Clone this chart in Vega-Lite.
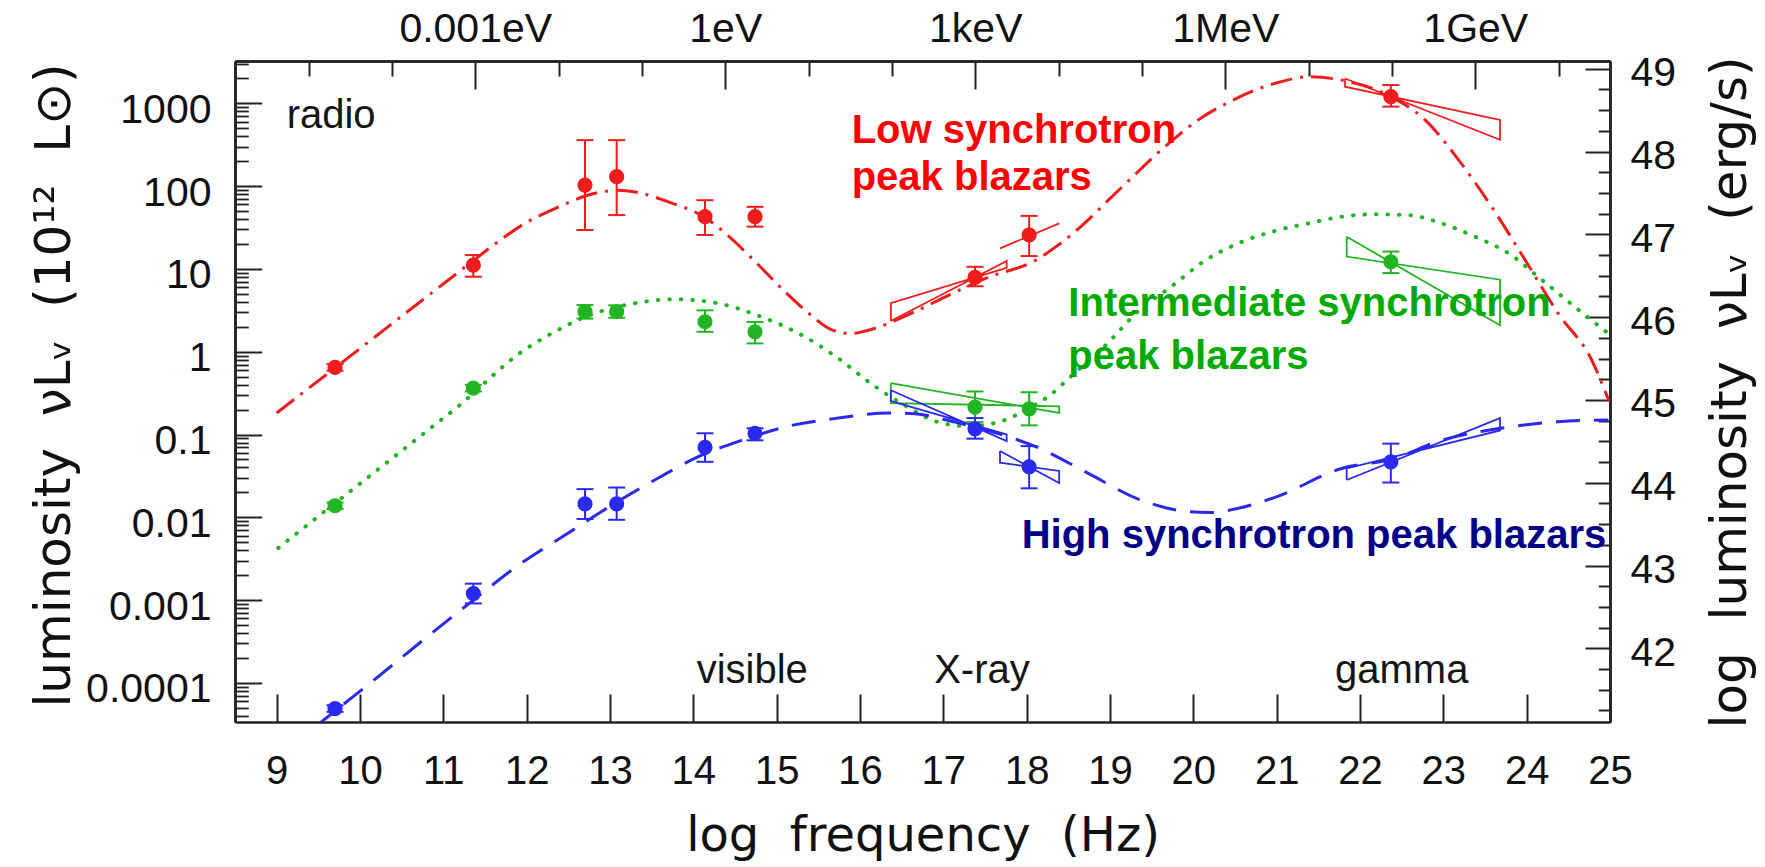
{
  "$schema": "https://vega.github.io/schema/vega-lite/v6.json",
  "width": 1375,
  "height": 661,
  "autosize": {"type": "none"},
  "padding": {"left": 235, "top": 61, "right": 155, "bottom": 145},
  "background": "#ffffff",
  "config": {
    "view": {"stroke": null},
    "axis": {
      "grid": false,
      "domainColor": "#222222",
      "domainWidth": 2.5,
      "tickColor": "#222222",
      "tickWidth": 2,
      "labelColor": "#111111",
      "labelFont": "Liberation Sans",
      "labelFontSize": 40,
      "titleColor": "#111111",
      "titleFont": "DejaVu Sans",
      "titleFontSize": 48,
      "titleFontWeight": "normal",
      "labelOverlap": false,
      "labelFlush": false,
      "labelBound": false
    }
  },
  "datasets": {
    "curves": [
      {"class": "LSP", "f": 9.0, "nuL": 0.182},
      {"class": "LSP", "f": 9.7, "nuL": 0.638},
      {"class": "LSP", "f": 10.3, "nuL": 1.875},
      {"class": "LSP", "f": 10.7, "nuL": 3.85},
      {"class": "LSP", "f": 11.06, "nuL": 7.35},
      {"class": "LSP", "f": 11.36, "nuL": 12.6},
      {"class": "LSP", "f": 11.66, "nuL": 21.4},
      {"class": "LSP", "f": 11.98, "nuL": 35.5},
      {"class": "LSP", "f": 12.3, "nuL": 51.3},
      {"class": "LSP", "f": 12.5, "nuL": 63.1},
      {"class": "LSP", "f": 12.7, "nuL": 75.9},
      {"class": "LSP", "f": 12.9, "nuL": 85.1},
      {"class": "LSP", "f": 13.1, "nuL": 89.1},
      {"class": "LSP", "f": 13.3, "nuL": 85.1},
      {"class": "LSP", "f": 13.7, "nuL": 64.6},
      {"class": "LSP", "f": 14.14, "nuL": 41.7},
      {"class": "LSP", "f": 14.42, "nuL": 25.1},
      {"class": "LSP", "f": 14.7, "nuL": 13.5},
      {"class": "LSP", "f": 15.12, "nuL": 5.07},
      {"class": "LSP", "f": 15.39, "nuL": 2.88},
      {"class": "LSP", "f": 15.67, "nuL": 1.82},
      {"class": "LSP", "f": 15.9, "nuL": 1.66},
      {"class": "LSP", "f": 16.1, "nuL": 1.82},
      {"class": "LSP", "f": 16.66, "nuL": 3.05},
      {"class": "LSP", "f": 16.98, "nuL": 4.37},
      {"class": "LSP", "f": 17.54, "nuL": 7.94},
      {"class": "LSP", "f": 18.1, "nuL": 12.6},
      {"class": "LSP", "f": 18.34, "nuL": 18.2},
      {"class": "LSP", "f": 18.66, "nuL": 33.1},
      {"class": "LSP", "f": 18.98, "nuL": 67.6},
      {"class": "LSP", "f": 19.26, "nuL": 126},
      {"class": "LSP", "f": 19.54, "nuL": 234},
      {"class": "LSP", "f": 19.78, "nuL": 380},
      {"class": "LSP", "f": 20.06, "nuL": 631},
      {"class": "LSP", "f": 20.42, "nuL": 1023},
      {"class": "LSP", "f": 20.74, "nuL": 1445},
      {"class": "LSP", "f": 20.98, "nuL": 1738},
      {"class": "LSP", "f": 21.38, "nuL": 2089},
      {"class": "LSP", "f": 21.78, "nuL": 1905},
      {"class": "LSP", "f": 22.37, "nuL": 1202},
      {"class": "LSP", "f": 22.78, "nuL": 631},
      {"class": "LSP", "f": 23.18, "nuL": 209},
      {"class": "LSP", "f": 23.58, "nuL": 56.2},
      {"class": "LSP", "f": 23.98, "nuL": 12.9},
      {"class": "LSP", "f": 24.38, "nuL": 2.88},
      {"class": "LSP", "f": 24.78, "nuL": 0.794},
      {"class": "LSP", "f": 24.99, "nuL": 0.25},
      {"class": "ISP", "f": 9.02, "nuL": 0.00427},
      {"class": "ISP", "f": 9.7, "nuL": 0.0148},
      {"class": "ISP", "f": 10.3, "nuL": 0.0441},
      {"class": "ISP", "f": 10.82, "nuL": 0.114},
      {"class": "ISP", "f": 11.22, "nuL": 0.237},
      {"class": "ISP", "f": 11.36, "nuL": 0.316},
      {"class": "ISP", "f": 11.9, "nuL": 0.933},
      {"class": "ISP", "f": 12.3, "nuL": 1.66},
      {"class": "ISP", "f": 12.7, "nuL": 2.63},
      {"class": "ISP", "f": 13.3, "nuL": 3.85},
      {"class": "ISP", "f": 13.78, "nuL": 4.3},
      {"class": "ISP", "f": 14.29, "nuL": 3.85},
      {"class": "ISP", "f": 14.74, "nuL": 2.82},
      {"class": "ISP", "f": 15.34, "nuL": 1.51},
      {"class": "ISP", "f": 15.74, "nuL": 0.832},
      {"class": "ISP", "f": 16.14, "nuL": 0.407},
      {"class": "ISP", "f": 16.54, "nuL": 0.224},
      {"class": "ISP", "f": 16.94, "nuL": 0.141},
      {"class": "ISP", "f": 17.3, "nuL": 0.126},
      {"class": "ISP", "f": 17.7, "nuL": 0.145},
      {"class": "ISP", "f": 18.03, "nuL": 0.209},
      {"class": "ISP", "f": 18.26, "nuL": 0.288},
      {"class": "ISP", "f": 18.54, "nuL": 0.513},
      {"class": "ISP", "f": 18.94, "nuL": 1.175},
      {"class": "ISP", "f": 19.34, "nuL": 3.09},
      {"class": "ISP", "f": 19.74, "nuL": 6.17},
      {"class": "ISP", "f": 20.14, "nuL": 12.6},
      {"class": "ISP", "f": 20.54, "nuL": 20.4},
      {"class": "ISP", "f": 20.98, "nuL": 28.8},
      {"class": "ISP", "f": 21.38, "nuL": 35.5},
      {"class": "ISP", "f": 21.78, "nuL": 42.7},
      {"class": "ISP", "f": 22.18, "nuL": 45.7},
      {"class": "ISP", "f": 22.58, "nuL": 44.7},
      {"class": "ISP", "f": 22.98, "nuL": 35.5},
      {"class": "ISP", "f": 23.38, "nuL": 24.5},
      {"class": "ISP", "f": 23.78, "nuL": 15.5},
      {"class": "ISP", "f": 24.18, "nuL": 7.41},
      {"class": "ISP", "f": 24.58, "nuL": 3.47},
      {"class": "ISP", "f": 24.98, "nuL": 1.66},
      {"class": "HSP", "f": 9.45, "nuL": 0.0000288},
      {"class": "HSP", "f": 9.7, "nuL": 0.0000457},
      {"class": "HSP", "f": 10.1, "nuL": 0.0000955},
      {"class": "HSP", "f": 10.7, "nuL": 0.000295},
      {"class": "HSP", "f": 11.36, "nuL": 0.001},
      {"class": "HSP", "f": 11.9, "nuL": 0.00263},
      {"class": "HSP", "f": 12.5, "nuL": 0.00646},
      {"class": "HSP", "f": 12.9, "nuL": 0.01175},
      {"class": "HSP", "f": 13.5, "nuL": 0.0269},
      {"class": "HSP", "f": 14.1, "nuL": 0.0562},
      {"class": "HSP", "f": 14.58, "nuL": 0.0851},
      {"class": "HSP", "f": 15.14, "nuL": 0.126},
      {"class": "HSP", "f": 15.74, "nuL": 0.158},
      {"class": "HSP", "f": 16.34, "nuL": 0.182},
      {"class": "HSP", "f": 16.66, "nuL": 0.178},
      {"class": "HSP", "f": 17.14, "nuL": 0.141},
      {"class": "HSP", "f": 17.54, "nuL": 0.111},
      {"class": "HSP", "f": 18.14, "nuL": 0.0692},
      {"class": "HSP", "f": 18.74, "nuL": 0.0339},
      {"class": "HSP", "f": 19.34, "nuL": 0.0166},
      {"class": "HSP", "f": 19.94, "nuL": 0.0117},
      {"class": "HSP", "f": 20.2, "nuL": 0.0114},
      {"class": "HSP", "f": 20.5, "nuL": 0.0126},
      {"class": "HSP", "f": 20.98, "nuL": 0.0174},
      {"class": "HSP", "f": 21.78, "nuL": 0.0389},
      {"class": "HSP", "f": 22.37, "nuL": 0.0501},
      {"class": "HSP", "f": 22.98, "nuL": 0.0851},
      {"class": "HSP", "f": 23.78, "nuL": 0.123},
      {"class": "HSP", "f": 24.38, "nuL": 0.143},
      {"class": "HSP", "f": 24.98, "nuL": 0.15}
    ],
    "points": [
      {"class": "LSP", "f": 9.7, "nuL": 0.646, "lo": 0.589, "hi": 0.708},
      {"class": "LSP", "f": 11.36, "nuL": 11.1, "lo": 8.05, "hi": 14.7},
      {"class": "LSP", "f": 12.7, "nuL": 103, "lo": 29.5, "hi": 359},
      {"class": "LSP", "f": 13.08, "nuL": 130, "lo": 44.7, "hi": 359},
      {"class": "LSP", "f": 14.14, "nuL": 42.7, "lo": 25.7, "hi": 67.6},
      {"class": "LSP", "f": 14.74, "nuL": 42.7, "lo": 32.4, "hi": 56.2},
      {"class": "LSP", "f": 17.38, "nuL": 7.89, "lo": 6.17, "hi": 10.6},
      {"class": "LSP", "f": 18.03, "nuL": 25.7, "lo": 14.3, "hi": 43.7},
      {"class": "LSP", "f": 22.37, "nuL": 1202, "lo": 912, "hi": 1660},
      {"class": "ISP", "f": 9.7, "nuL": 0.0138, "lo": 0.0126, "hi": 0.0151},
      {"class": "ISP", "f": 11.36, "nuL": 0.363, "lo": 0.331, "hi": 0.398},
      {"class": "ISP", "f": 12.7, "nuL": 3.04, "lo": 2.51, "hi": 3.66},
      {"class": "ISP", "f": 13.08, "nuL": 3.04, "lo": 2.57, "hi": 3.63},
      {"class": "ISP", "f": 14.14, "nuL": 2.3, "lo": 1.74, "hi": 3.16},
      {"class": "ISP", "f": 14.74, "nuL": 1.74, "lo": 1.26, "hi": 2.29},
      {"class": "ISP", "f": 17.38, "nuL": 0.214, "lo": 0.141, "hi": 0.331},
      {"class": "ISP", "f": 18.03, "nuL": 0.204, "lo": 0.129, "hi": 0.324},
      {"class": "ISP", "f": 22.37, "nuL": 12.2, "lo": 8.91, "hi": 16.2},
      {"class": "HSP", "f": 9.7, "nuL": 0.000049, "lo": 0.0000447, "hi": 0.0000537},
      {"class": "HSP", "f": 11.36, "nuL": 0.0012, "lo": 0.000912, "hi": 0.00158},
      {"class": "HSP", "f": 12.7, "nuL": 0.0145, "lo": 0.00955, "hi": 0.0219},
      {"class": "HSP", "f": 13.08, "nuL": 0.0145, "lo": 0.00933, "hi": 0.0229},
      {"class": "HSP", "f": 14.14, "nuL": 0.07, "lo": 0.0468, "hi": 0.1035},
      {"class": "HSP", "f": 14.74, "nuL": 0.1035, "lo": 0.0851, "hi": 0.119},
      {"class": "HSP", "f": 17.38, "nuL": 0.117, "lo": 0.0891, "hi": 0.158},
      {"class": "HSP", "f": 18.03, "nuL": 0.0407, "lo": 0.0224, "hi": 0.0724},
      {"class": "HSP", "f": 22.37, "nuL": 0.0468, "lo": 0.0263, "hi": 0.0776}
    ],
    "bowties": [
      {"class": "LSP", "shape": "LSP X-ray", "order": 0, "f": 16.37, "nuL": 2.35},
      {"class": "LSP", "shape": "LSP X-ray", "order": 1, "f": 17.76, "nuL": 12.45},
      {"class": "LSP", "shape": "LSP X-ray", "order": 2, "f": 17.76, "nuL": 10.3},
      {"class": "LSP", "shape": "LSP X-ray", "order": 3, "f": 16.37, "nuL": 3.87},
      {"class": "LSP", "shape": "LSP X-ray", "order": 4, "f": 16.37, "nuL": 2.35},
      {"class": "LSP", "shape": "LSP X-ray slope", "order": 0, "f": 17.68, "nuL": 17.7},
      {"class": "LSP", "shape": "LSP X-ray slope", "order": 1, "f": 18.39, "nuL": 35.5},
      {"class": "LSP", "shape": "LSP gamma", "order": 0, "f": 21.82, "nuL": 1995},
      {"class": "LSP", "shape": "LSP gamma", "order": 1, "f": 23.68, "nuL": 363},
      {"class": "LSP", "shape": "LSP gamma", "order": 2, "f": 23.68, "nuL": 631},
      {"class": "LSP", "shape": "LSP gamma", "order": 3, "f": 21.82, "nuL": 1585},
      {"class": "LSP", "shape": "LSP gamma", "order": 4, "f": 21.82, "nuL": 1995},
      {"class": "ISP", "shape": "ISP X-ray", "order": 0, "f": 16.37, "nuL": 0.417},
      {"class": "ISP", "shape": "ISP X-ray", "order": 1, "f": 18.39, "nuL": 0.182},
      {"class": "ISP", "shape": "ISP X-ray", "order": 2, "f": 18.39, "nuL": 0.219},
      {"class": "ISP", "shape": "ISP X-ray", "order": 3, "f": 16.37, "nuL": 0.24},
      {"class": "ISP", "shape": "ISP X-ray", "order": 4, "f": 16.37, "nuL": 0.417},
      {"class": "ISP", "shape": "ISP gamma", "order": 0, "f": 21.84, "nuL": 24.5},
      {"class": "ISP", "shape": "ISP gamma", "order": 1, "f": 23.68, "nuL": 2.09},
      {"class": "ISP", "shape": "ISP gamma", "order": 2, "f": 23.68, "nuL": 7.41},
      {"class": "ISP", "shape": "ISP gamma", "order": 3, "f": 21.84, "nuL": 14.1},
      {"class": "ISP", "shape": "ISP gamma", "order": 4, "f": 21.84, "nuL": 24.5},
      {"class": "HSP", "shape": "HSP X-ray soft", "order": 0, "f": 16.37, "nuL": 0.342},
      {"class": "HSP", "shape": "HSP X-ray soft", "order": 1, "f": 17.76, "nuL": 0.0832},
      {"class": "HSP", "shape": "HSP X-ray soft", "order": 2, "f": 17.76, "nuL": 0.1},
      {"class": "HSP", "shape": "HSP X-ray soft", "order": 3, "f": 16.37, "nuL": 0.254},
      {"class": "HSP", "shape": "HSP X-ray soft", "order": 4, "f": 16.37, "nuL": 0.342},
      {"class": "HSP", "shape": "HSP X-ray hard", "order": 0, "f": 17.68, "nuL": 0.0631},
      {"class": "HSP", "shape": "HSP X-ray hard", "order": 1, "f": 18.39, "nuL": 0.026},
      {"class": "HSP", "shape": "HSP X-ray hard", "order": 2, "f": 18.39, "nuL": 0.0363},
      {"class": "HSP", "shape": "HSP X-ray hard", "order": 3, "f": 17.68, "nuL": 0.0457},
      {"class": "HSP", "shape": "HSP X-ray hard", "order": 4, "f": 17.68, "nuL": 0.0631},
      {"class": "HSP", "shape": "HSP gamma", "order": 0, "f": 21.84, "nuL": 0.0282},
      {"class": "HSP", "shape": "HSP gamma", "order": 1, "f": 23.68, "nuL": 0.158},
      {"class": "HSP", "shape": "HSP gamma", "order": 2, "f": 23.68, "nuL": 0.112},
      {"class": "HSP", "shape": "HSP gamma", "order": 3, "f": 21.84, "nuL": 0.0389},
      {"class": "HSP", "shape": "HSP gamma", "order": 4, "f": 21.84, "nuL": 0.0282}
    ],
    "bands": [
      {"text": "radio", "f": 9.12, "nuL": 499},
      {"text": "visible", "f": 14.04, "nuL": 0.0001},
      {"text": "X-ray", "f": 16.89, "nuL": 0.0001},
      {"text": "gamma", "f": 21.7, "nuL": 0.0001}
    ],
    "classLabels": [
      {"text": "Low synchrotron", "class": "LSP", "f": 15.9, "nuL": 330},
      {"text": "peak blazars", "class": "LSP", "f": 15.9, "nuL": 89.7},
      {"text": "Intermediate synchrotron", "class": "ISP", "f": 18.5, "nuL": 2.71},
      {"text": "peak blazars", "class": "ISP", "f": 18.5, "nuL": 0.618},
      {"text": "High synchrotron peak blazars", "class": "HSP", "f": 17.94, "nuL": 0.00426}
    ]
  },
  "layer": [
    {
      "layer": [
        {
          "data": {"name": "curves"},
          "transform": [{"filter": "datum.class === 'LSP'"}],
          "mark": {"type": "line", "color": "#ee1c1c", "strokeWidth": 3, "strokeDash": [22, 8, 3, 8], "clip": true, "interpolate": "monotone"},
          "encoding": {
            "x": {"field": "f", "type": "quantitative", "scale": {"domain": [8.5, 25], "nice": false, "zero": false}, "axis": null},
            "y": {"field": "nuL", "type": "quantitative", "scale": {"type": "log", "domain": [0.00003373, 3243], "nice": false}, "axis": null}
          }
        },
        {
          "data": {"name": "curves"},
          "transform": [{"filter": "datum.class === 'ISP'"}],
          "mark": {"type": "line", "color": "#22b422", "strokeWidth": 4, "strokeDash": [0.5, 11], "strokeCap": "round", "clip": true, "interpolate": "monotone"},
          "encoding": {
            "x": {"field": "f", "type": "quantitative", "scale": {"domain": [8.5, 25], "nice": false, "zero": false}, "axis": null},
            "y": {"field": "nuL", "type": "quantitative", "scale": {"type": "log", "domain": [0.00003373, 3243], "nice": false}, "axis": null}
          }
        },
        {
          "data": {"name": "curves"},
          "transform": [{"filter": "datum.class === 'HSP'"}],
          "mark": {"type": "line", "color": "#2a2aee", "strokeWidth": 3, "strokeDash": [24, 14], "clip": true, "interpolate": "monotone"},
          "encoding": {
            "x": {"field": "f", "type": "quantitative", "scale": {"domain": [8.5, 25], "nice": false, "zero": false}, "axis": null},
            "y": {"field": "nuL", "type": "quantitative", "scale": {"type": "log", "domain": [0.00003373, 3243], "nice": false}, "axis": null}
          }
        },
        {
          "data": {"name": "bowties"},
          "mark": {"type": "line", "strokeWidth": 1.8, "clip": true},
          "encoding": {
            "x": {"field": "f", "type": "quantitative", "scale": {"domain": [8.5, 25], "nice": false, "zero": false}, "axis": null},
            "y": {"field": "nuL", "type": "quantitative", "scale": {"type": "log", "domain": [0.00003373, 3243], "nice": false}, "axis": null},
            "color": {"field": "class", "type": "nominal", "scale": {"domain": ["LSP", "ISP", "HSP"], "range": ["#ee1c1c", "#22b422", "#2a2aee"]}, "legend": null},
            "detail": {"field": "shape"},
            "order": {"field": "order", "type": "quantitative"}
          }
        },
        {
          "data": {"name": "points"},
          "mark": {"type": "rule", "strokeWidth": 2},
          "encoding": {
            "x": {"field": "f", "type": "quantitative", "scale": {"domain": [8.5, 25], "nice": false, "zero": false}, "axis": null},
            "y": {"field": "lo", "type": "quantitative", "scale": {"type": "log", "domain": [0.00003373, 3243], "nice": false}, "axis": null},
            "y2": {"field": "hi"},
            "color": {"field": "class", "type": "nominal", "scale": {"domain": ["LSP", "ISP", "HSP"], "range": ["#ee1c1c", "#22b422", "#2a2aee"]}, "legend": null}
          }
        },
        {
          "data": {"name": "points"},
          "mark": {"type": "tick", "orient": "horizontal", "size": 17, "thickness": 2, "opacity": 1},
          "encoding": {
            "x": {"field": "f", "type": "quantitative", "scale": {"domain": [8.5, 25], "nice": false, "zero": false}, "axis": null},
            "y": {"field": "lo", "type": "quantitative", "scale": {"type": "log", "domain": [0.00003373, 3243], "nice": false}, "axis": null},
            "color": {"field": "class", "type": "nominal", "scale": {"domain": ["LSP", "ISP", "HSP"], "range": ["#ee1c1c", "#22b422", "#2a2aee"]}, "legend": null}
          }
        },
        {
          "data": {"name": "points"},
          "mark": {"type": "tick", "orient": "horizontal", "size": 17, "thickness": 2, "opacity": 1},
          "encoding": {
            "x": {"field": "f", "type": "quantitative", "scale": {"domain": [8.5, 25], "nice": false, "zero": false}, "axis": null},
            "y": {"field": "hi", "type": "quantitative", "scale": {"type": "log", "domain": [0.00003373, 3243], "nice": false}, "axis": null},
            "color": {"field": "class", "type": "nominal", "scale": {"domain": ["LSP", "ISP", "HSP"], "range": ["#ee1c1c", "#22b422", "#2a2aee"]}, "legend": null}
          }
        },
        {
          "data": {"name": "points"},
          "mark": {"type": "point", "shape": "circle", "filled": true, "size": 230, "opacity": 1},
          "encoding": {
            "x": {"field": "f", "type": "quantitative", "scale": {"domain": [8.5, 25], "nice": false, "zero": false}, "axis": null},
            "y": {"field": "nuL", "type": "quantitative", "scale": {"type": "log", "domain": [0.00003373, 3243], "nice": false}, "axis": null},
            "color": {"field": "class", "type": "nominal", "scale": {"domain": ["LSP", "ISP", "HSP"], "range": ["#ee1c1c", "#22b422", "#2a2aee"]}, "legend": null}
          }
        },
        {
          "data": {"name": "bands"},
          "mark": {"type": "text", "font": "Liberation Sans", "fontSize": 40, "align": "left", "baseline": "alphabetic", "color": "#151515"},
          "encoding": {
            "x": {"field": "f", "type": "quantitative", "scale": {"domain": [8.5, 25], "nice": false, "zero": false}, "axis": null},
            "y": {"field": "nuL", "type": "quantitative", "scale": {"type": "log", "domain": [0.00003373, 3243], "nice": false}, "axis": null},
            "text": {"field": "text"}
          }
        },
        {
          "data": {"name": "classLabels"},
          "mark": {"type": "text", "font": "Liberation Sans", "fontSize": 40, "fontWeight": "bold", "align": "left", "baseline": "alphabetic"},
          "encoding": {
            "x": {"field": "f", "type": "quantitative", "scale": {"domain": [8.5, 25], "nice": false, "zero": false}, "axis": null},
            "y": {"field": "nuL", "type": "quantitative", "scale": {"type": "log", "domain": [0.00003373, 3243], "nice": false}, "axis": null},
            "text": {"field": "text"},
            "fill": {"field": "class", "type": "nominal", "scale": {"domain": ["LSP", "ISP", "HSP"], "range": ["#ff0000", "#00aa00", "#000088"]}, "legend": null}
          }
        }
      ]
    },
    {
      "data": {"name": "points"},
      "mark": {"type": "point", "opacity": 0},
      "encoding": {
        "x": {
          "field": "f", "type": "quantitative",
          "scale": {"domain": [8.5, 25], "nice": false, "zero": false},
          "axis": {
            "orient": "bottom",
            "values": [9, 10, 11, 12, 13, 14, 15, 16, 17, 18, 19, 20, 21, 22, 23, 24, 25],
            "format": "d",
            "tickSize": -28,
            "labelPadding": 89,
            "labelBaseline": "alphabetic",
            "title": "log\u00a0\u00a0frequency\u00a0\u00a0(Hz)",
            "titleY": 128,
            "titleBaseline": "alphabetic"
          }
        },
        "y": {
          "field": "nuL", "type": "quantitative",
          "scale": {"type": "log", "domain": [0.00003373, 3243], "nice": false},
          "axis": {
            "orient": "left",
            "values": [0.0001, 0.001, 0.01, 0.1, 1, 10, 100, 1000],
            "format": "~g",
            "tickSize": -26.7,
            "labelPadding": 50.7,
            "labelOffset": 7,
            "labelFontSize": 41,
            "labelAlign": "right",
            "labelBaseline": "middle",
            "title": "luminosity\u00a0\u00a0\u03bdL\u1d65\u00a0\u00a0(10\u00b9\u00b2\u00a0\u00a0L\u2299)",
            "titleFontSize": 50,
            "titleAngle": 270,
            "titleX": -181,
            "titleY": 324,
            "titleAlign": "center",
            "titleBaseline": "middle"
          }
        }
      }
    },
    {
      "data": {"name": "points"},
      "mark": {"type": "point", "opacity": 0},
      "encoding": {
        "x": {
          "field": "f", "type": "quantitative",
          "scale": {"domain": [8.5, 25], "nice": false, "zero": false},
          "axis": {
            "orient": "top",
            "values": [11.383, 14.383, 17.383, 20.383, 23.383],
            "labelExpr": "datum.value < 12 ? '0.001eV' : datum.value < 15 ? '1eV' : datum.value < 18 ? '1keV' : datum.value < 21 ? '1MeV' : '1GeV'",
            "tickSize": -28,
            "labelPadding": 47.3,
            "labelFontSize": 41,
            "labelBaseline": "alphabetic",
            "title": null
          }
        },
        "y": {
          "field": "nuL", "type": "quantitative",
          "scale": {"type": "log", "domain": [0.00003373, 3243], "nice": false},
          "axis": {
            "orient": "left",
            "values": [0.00004, 0.00005, 0.00006, 0.00007, 0.00008, 0.00009,
                       0.0002, 0.0003, 0.0004, 0.0005, 0.0006, 0.0007, 0.0008, 0.0009,
                       0.002, 0.003, 0.004, 0.005, 0.006, 0.007, 0.008, 0.009,
                       0.02, 0.03, 0.04, 0.05, 0.06, 0.07, 0.08, 0.09,
                       0.2, 0.3, 0.4, 0.5, 0.6, 0.7, 0.8, 0.9,
                       2, 3, 4, 5, 6, 7, 8, 9,
                       20, 30, 40, 50, 60, 70, 80, 90,
                       200, 300, 400, 500, 600, 700, 800, 900,
                       2000, 3000],
            "labels": false,
            "tickSize": -13.3,
            "tickWidth": 1.8,
            "title": null
          }
        }
      }
    },
    {
      "data": {"name": "points"},
      "mark": {"type": "point", "opacity": 0},
      "encoding": {
        "x": {
          "field": "f", "type": "quantitative",
          "scale": {"domain": [8.5, 25], "nice": false, "zero": false},
          "axis": {
            "orient": "top",
            "values": [9.383, 10.383, 12.383, 13.383, 15.383, 16.383, 18.383, 19.383, 21.383, 22.383, 24.383],
            "labels": false,
            "tickSize": -15,
            "title": null
          }
        },
        "y": {
          "datum": 45, "type": "quantitative",
          "scale": {"domain": [41.111, 49.094], "nice": false, "zero": false},
          "axis": {
            "orient": "right",
            "values": [42, 43, 44, 45, 46, 47, 48, 49],
            "format": "d",
            "tickSize": -25,
            "labelPadding": 45,
            "labelOffset": 5,
            "labelFontSize": 41,
            "labelAlign": "left",
            "labelBaseline": "middle",
            "title": "log\u00a0\u00a0luminosity\u00a0\u00a0\u03bdL\u1d65\u00a0\u00a0(erg/s)",
            "titleFontSize": 50,
            "titleAngle": 270,
            "titleX": 120,
            "titleY": 331,
            "titleAlign": "center",
            "titleBaseline": "middle"
          }
        }
      }
    },
    {
      "data": {"name": "points"},
      "mark": {"type": "point", "opacity": 0},
      "encoding": {
        "y": {
          "datum": 45, "type": "quantitative",
          "scale": {"domain": [41.111, 49.094], "nice": false, "zero": false},
          "axis": {
            "orient": "right",
            "values": [41.25, 41.5, 41.75, 42.25, 42.5, 42.75, 43.25, 43.5, 43.75, 44.25, 44.5, 44.75, 45.25, 45.5, 45.75, 46.25, 46.5, 46.75, 47.25, 47.5, 47.75, 48.25, 48.5, 48.75],
            "labels": false,
            "tickSize": -11.7,
            "title": null
          }
        }
      }
    }
  ],
  "resolve": {"scale": {"y": "independent"}, "axis": {"x": "independent", "y": "independent"}}
}
